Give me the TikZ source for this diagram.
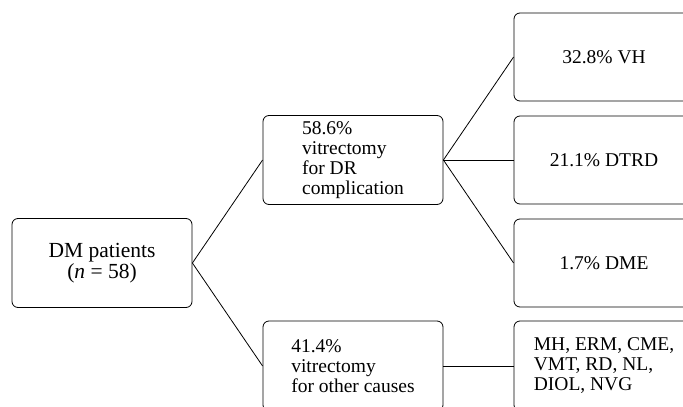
\documentclass[tikz,border=0pt]{standalone}
\usepackage{fontspec}
\setmainfont{Liberation Serif}
\begin{document}
\begin{tikzpicture}[x = 1pt, y = -1pt,
    box/.style = {draw, rounded corners = 6pt, line width = 0.8pt,
      minimum width = 180pt, minimum height = 89pt, inner sep = 0pt,
      align = left, font = \fontsize{19.5}{20}\selectfont}]

  \clip (0, 0) rectangle (683, 407);

  \node[box, align = center, font = \fontsize{21.5}{18.5}\selectfont]
    (dm) at (102, 263) {DM patients\\(\textit{n} = 58)};

  \node[box] (dr) at (353, 160)
    {58.6\%\\vitrectomy\\for DR\\complication};
  \node[box, minimum height = 90pt] (other) at (353, 366)
    {41.4\%\\vitrectomy\\for other causes};

  \node[box, minimum height = 88pt] (vh) at (604, 57) {32.8\% VH};
  \node[box, minimum height = 88pt] (dtrd) at (604, 160) {21.1\% DTRD};
  \node[box, minimum height = 88pt] (dme) at (604, 263) {1.7\% DME};
  \node[box, minimum height = 90pt] (misc) at (604, 366)
    {MH, ERM, CME,\\VMT, RD, NL,\\DIOL, NVG};

  \draw[line width = 0.8pt] (dm.east) -- (dr.west);
  \draw[line width = 0.8pt] (dm.east) -- (other.west);
  \foreach \n in {vh, dtrd, dme} {
    \draw[line width = 0.8pt] (dr.east) -- (\n.west);
  }
  \draw[line width = 0.8pt] (other.east) -- (misc.west);

\end{tikzpicture}
\end{document}
